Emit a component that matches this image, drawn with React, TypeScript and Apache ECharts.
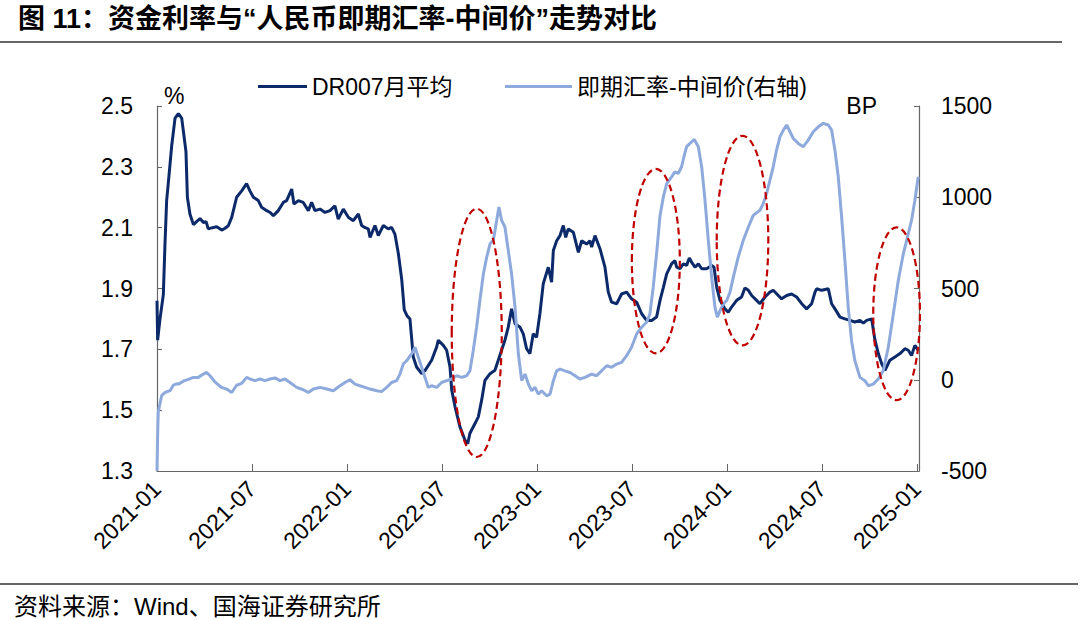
import React, { useEffect, useRef } from 'react';
import * as echarts from 'echarts';

// x = months elapsed since 2021-01; y = value
const dr007: [number, number][] = [
  [0, 1.86], [0.04, 1.73], [0.19, 1.8], [0.4, 1.88], [0.5, 2.04], [0.61, 2.19], [0.72, 2.25], [0.93, 2.37],
  [1.14, 2.46], [1.35, 2.475], [1.56, 2.46], [1.66, 2.42], [1.83, 2.35], [1.92, 2.2], [2.08, 2.145], [2.3, 2.11],
  [2.5, 2.12], [2.72, 2.13], [2.93, 2.117], [3.1, 2.12], [3.24, 2.096], [3.5, 2.1], [3.77, 2.103], [4.09, 2.092],
  [4.3, 2.098], [4.51, 2.107], [4.72, 2.134], [5.03, 2.2], [5.35, 2.221], [5.66, 2.245], [5.87, 2.221], [6.09, 2.2],
  [6.4, 2.189], [6.61, 2.167], [6.93, 2.156], [7.15, 2.15], [7.35, 2.139], [7.66, 2.156], [7.98, 2.183], [8.19, 2.189],
  [8.51, 2.227], [8.65, 2.178], [8.93, 2.189], [9.24, 2.183], [9.56, 2.156], [9.77, 2.183], [9.98, 2.156], [10.3, 2.161],
  [10.61, 2.15], [10.93, 2.156], [11.24, 2.172], [11.45, 2.128], [11.77, 2.161], [12.09, 2.134], [12.4, 2.123], [12.72, 2.145],
  [12.93, 2.107], [13.15, 2.1], [13.35, 2.096], [13.46, 2.068], [13.77, 2.107], [13.98, 2.074], [14.3, 2.107], [14.61, 2.096],
  [14.82, 2.101], [15.03, 2.079], [15.25, 2.014], [15.46, 1.93], [15.62, 1.83], [15.8, 1.81], [15.98, 1.8], [16.19, 1.675],
  [16.4, 1.642], [16.72, 1.62], [16.93, 1.63], [17.35, 1.664], [17.67, 1.708], [17.77, 1.73], [18.09, 1.713], [18.3, 1.697],
  [18.51, 1.642], [18.62, 1.566], [18.83, 1.511], [19.14, 1.445], [19.46, 1.401], [19.63, 1.39], [19.77, 1.424], [20.09, 1.456],
  [20.3, 1.478], [20.51, 1.533], [20.72, 1.598], [21.04, 1.62], [21.35, 1.631], [21.56, 1.664], [21.77, 1.697], [21.98, 1.73],
  [22.19, 1.773], [22.4, 1.833], [22.62, 1.784], [22.93, 1.773], [23.14, 1.751], [23.35, 1.702], [23.56, 1.686], [23.77, 1.751],
  [23.98, 1.74], [24.19, 1.817], [24.4, 1.915], [24.72, 1.97], [24.93, 1.921], [25.04, 2.025], [25.25, 2.057], [25.46, 2.074],
  [25.67, 2.107], [25.82, 2.068], [25.98, 2.096], [26.3, 2.085], [26.62, 2.019], [26.83, 2.057], [27.14, 2.046], [27.35, 2.057],
  [27.46, 2.036], [27.67, 2.074], [27.99, 2.03], [28.3, 1.97], [28.51, 1.888], [28.72, 1.855], [29.04, 1.85], [29.35, 1.882],
  [29.67, 1.888], [29.98, 1.866], [30.3, 1.855], [30.62, 1.817], [30.93, 1.795], [31.25, 1.795], [31.56, 1.806], [31.78, 1.861],
  [31.99, 1.904], [32.2, 1.948], [32.51, 1.981], [32.72, 1.992], [32.83, 1.97], [33.04, 1.965], [33.25, 1.981], [33.46, 1.976],
  [33.63, 2.0], [33.78, 1.986], [33.99, 1.97], [34.2, 1.981], [34.41, 1.965], [34.72, 1.965], [35.04, 1.976], [35.19, 1.97],
  [35.36, 1.904], [35.57, 1.861], [35.88, 1.833], [36.09, 1.822], [36.3, 1.839], [36.62, 1.861], [36.93, 1.872], [37.14, 1.902],
  [37.36, 1.894], [37.57, 1.877], [37.88, 1.861], [38.09, 1.85], [38.41, 1.872], [38.72, 1.888], [38.93, 1.894], [39.25, 1.877],
  [39.46, 1.866], [39.78, 1.877], [40.09, 1.882], [40.41, 1.872], [40.73, 1.85], [41.04, 1.833], [41.36, 1.85], [41.57, 1.888],
  [41.67, 1.899], [41.99, 1.894], [42.41, 1.899], [42.62, 1.85], [42.83, 1.833], [43.15, 1.806], [43.46, 1.8], [43.78, 1.795],
  [44.09, 1.79], [44.41, 1.795], [44.62, 1.786], [44.83, 1.795], [45.15, 1.8], [45.36, 1.73], [45.57, 1.686], [45.78, 1.653],
  [45.99, 1.631], [46.3, 1.664], [46.62, 1.675], [46.94, 1.686], [47.25, 1.702], [47.46, 1.697], [47.67, 1.68], [47.88, 1.713],
  [48.09, 1.697],
];

const fxSpread: [number, number][] = [
  [0, -500], [0.04, -300], [0.08, -175], [0.3, -85], [0.5, -70], [0.82, -60], [1.03, -30], [1.24, -22],
  [1.35, -24], [1.66, -8], [1.98, 2], [2.3, 13], [2.61, 13], [2.93, 31], [3.14, 40], [3.35, 22],
  [3.66, -12], [3.9, -30], [4.09, -42], [4.4, -51], [4.72, -70], [5.03, -30], [5.35, -20], [5.66, 13],
  [5.87, 4], [6.19, -5], [6.51, 4], [6.82, -5], [7.14, 4], [7.45, 10], [7.77, -5], [8.09, 4],
  [8.4, -15], [8.82, -42], [9.24, -55], [9.56, -70], [9.88, -51], [10.3, -42], [10.72, -51], [11.14, -60],
  [11.56, -33], [11.88, -15], [12.19, 0], [12.51, -24], [12.82, -33], [13.14, -42], [13.46, -51], [13.88, -60],
  [14.19, -65], [14.51, -42], [14.82, -15], [15.14, -5], [15.35, 31], [15.56, 86], [15.77, 104], [15.98, 130],
  [16.09, 141], [16.3, 178], [16.51, 123], [16.72, 68], [16.93, 13], [17.14, -42], [17.35, -33], [17.67, -42],
  [17.98, -15], [18.3, -5], [18.62, 4], [18.93, 22], [19.25, 13], [19.56, 22], [19.77, 49], [19.98, 160],
  [20.19, 288], [20.4, 434], [20.62, 581], [20.83, 672], [21.04, 745], [21.25, 764], [21.46, 874], [21.6, 947],
  [21.77, 874], [21.98, 837], [22.19, 709], [22.4, 581], [22.62, 397], [22.83, 141], [23.04, -5], [23.25, 31],
  [23.46, -24], [23.67, -60], [23.88, -42], [24.09, -79], [24.3, -60], [24.62, -88], [24.83, -79], [25.04, -5],
  [25.25, 49], [25.46, 58], [25.77, 49], [26.09, 40], [26.41, 22], [26.72, 4], [27.04, 13], [27.46, 31],
  [27.77, 22], [28.09, 49], [28.41, 77], [28.72, 68], [29.04, 86], [29.35, 95], [29.67, 132], [29.98, 178],
  [30.3, 251], [30.62, 288], [30.93, 315], [31.14, 361], [31.35, 507], [31.56, 690], [31.78, 900], [31.99, 1002],
  [32.2, 1075], [32.51, 1112], [32.72, 1139], [32.93, 1130], [33.14, 1167], [33.29, 1222], [33.46, 1277], [33.78, 1304],
  [33.94, 1317], [34.2, 1277], [34.41, 1167], [34.62, 984], [34.83, 764], [35.04, 562], [35.25, 397], [35.4, 343],
  [35.57, 379], [35.78, 416], [35.99, 434], [36.2, 480], [36.41, 562], [36.72, 672], [37.04, 764], [37.36, 837],
  [37.67, 901], [38.09, 929], [38.3, 965], [38.51, 1020], [38.72, 1093], [38.93, 1167], [39.14, 1258], [39.36, 1332],
  [39.57, 1368], [39.78, 1396], [39.99, 1359], [40.2, 1322], [40.51, 1295], [40.83, 1277], [41.14, 1313], [41.46, 1359],
  [41.78, 1386], [42.09, 1405], [42.41, 1396], [42.62, 1368], [42.83, 1258], [43.04, 1112], [43.25, 892], [43.46, 654],
  [43.67, 397], [43.88, 214], [44.09, 104], [44.41, 13], [44.72, -5], [44.94, -33], [45.25, -24], [45.57, 4],
  [45.88, 49], [46.2, 178], [46.52, 361], [46.83, 544], [47.15, 690], [47.46, 800], [47.67, 874], [47.88, 984],
  [48.09, 1112],
];

const xTickLabels = ['2021-01', '2021-07', '2022-01', '2022-07', '2023-01', '2023-07', '2024-01', '2024-07', '2025-01'];
const seriesNames = ['DR007月平均', '即期汇率-中间价(右轴)'];

// Highlight ellipses: [monthFrom, monthTo] and [rateFrom, rateTo] on the left axis
const highlightMonths: [number, number][] = [[18.62, 21.78], [30.0, 33.03], [35.36, 38.62], [45.25, 48.2]];
const highlightRates: [number, number][] = [[1.346, 2.162], [1.687, 2.293], [1.713, 2.402], [1.533, 2.101]];

const FONT = "'Liberation Sans', Arial, 'Noto Sans CJK SC', sans-serif";
const DARK = '#0c2a6a';
const LIGHT = '#8eaadc';
const AXIS = '#666666';

export default function App() {
  const ref = useRef<HTMLDivElement>(null);

  useEffect(() => {
    if (!ref.current) return;
    const chart = echarts.init(ref.current, undefined, { renderer: 'svg' });

    const baseGraphic: any[] = [
      {
        id: 'title', type: 'text', left: 18, top: 5,
        style: { text: '图 11：资金利率与“人民币即期汇率-中间价”走势对比', fontSize: 27, fontWeight: 'bold', fontFamily: FONT, fill: '#000' },
      },
      { id: 'titleRule', type: 'line', shape: { x1: 0, y1: 42, x2: 1062, y2: 42 }, style: { stroke: '#333', lineWidth: 1.5 } },
      { id: 'footRule', type: 'line', shape: { x1: 0, y1: 584, x2: 1078, y2: 584 }, style: { stroke: '#333', lineWidth: 1.5 } },
      {
        id: 'foot', type: 'text', left: 14, top: 594,
        style: { text: '资料来源：Wind、国海证券研究所', fontSize: 24, fontFamily: FONT, fill: '#000' },
      },
      {
        id: 'pct', type: 'text', left: 164, top: 84,
        style: { text: '%', fontSize: 23, fontFamily: FONT, fill: '#000' },
      },
      {
        id: 'bp', type: 'text', right: 1080 - 877, top: 94,
        style: { text: 'BP', fontSize: 23, fontFamily: FONT, fill: '#000' },
      },
    ];

    const option: any = {
      animation: false,
      backgroundColor: '#fff',
      textStyle: { fontFamily: FONT },
      grid: { left: 157, top: 106, width: 762, height: 365, containLabel: false, outerBoundsMode: 'none' },
      legend: [
        {
          data: [seriesNames[0]], left: 253, top: 70, icon: 'rect', itemWidth: 49, itemHeight: 3,
          textStyle: { fontSize: 23, color: '#000', fontFamily: FONT }, selectedMode: false,
        },
        {
          data: [seriesNames[1]], left: 500, top: 70, icon: 'rect', itemWidth: 67, itemHeight: 3,
          textStyle: { fontSize: 23, color: '#000', fontFamily: FONT }, selectedMode: false,
        },
      ],
      xAxis: {
        type: 'value', min: 0, max: 48.14, interval: 6,
        splitLine: { show: false },
        axisLine: { onZero: false, lineStyle: { color: AXIS, width: 1.2 } },
        axisTick: { inside: true, length: 7, lineStyle: { color: AXIS } },
        axisLabel: {
          rotate: 45, margin: 14, fontSize: 23, color: '#000', fontFamily: FONT,
          formatter: (v: number) => {
            const i = Math.round(v / 6);
            return Math.abs(v - i * 6) < 1e-6 ? xTickLabels[i] ?? '' : '';
          },
        },
      },
      yAxis: [
        {
          type: 'value', min: 1.3, max: 2.5, interval: 0.2, position: 'left',
          splitLine: { show: false },
          axisLine: { show: true, onZero: false, lineStyle: { color: AXIS, width: 1.2 } },
          axisTick: { show: true, inside: true, length: 5, lineStyle: { color: AXIS } },
          axisLabel: { margin: 24, fontSize: 23, color: '#000', fontFamily: FONT, formatter: (v: number) => v.toFixed(1) },
        },
        {
          type: 'value', min: -500, max: 1500, interval: 500, position: 'right',
          splitLine: { show: false },
          axisLine: { show: true, onZero: false, lineStyle: { color: AXIS, width: 1.2 } },
          axisTick: { show: true, inside: true, length: 5, lineStyle: { color: AXIS } },
          axisLabel: { margin: 22, fontSize: 23, color: '#000', fontFamily: FONT, formatter: (v: number) => String(Math.round(v)) },
        },
      ],
      series: [
        {
          name: seriesNames[0], type: 'line', yAxisIndex: 0, data: dr007, symbol: 'none', z: 3,
          lineStyle: { width: 3, color: DARK }, itemStyle: { color: DARK },
        },
        {
          name: seriesNames[1], type: 'line', yAxisIndex: 1, data: fxSpread, symbol: 'none', z: 4,
          lineStyle: { width: 3, color: LIGHT }, itemStyle: { color: LIGHT },
        },
      ],
      graphic: baseGraphic,
    };

    chart.setOption(option);

    const ellipses = highlightMonths.map((mr, i) => {
      const vr = highlightRates[i];
      const p1 = chart.convertToPixel({ seriesIndex: 0 }, [mr[0], vr[0]]) as number[];
      const p2 = chart.convertToPixel({ seriesIndex: 0 }, [mr[1], vr[1]]) as number[];
      return {
        id: 'ell' + i, type: 'ellipse', z: 100,
        shape: {
          cx: (p1[0] + p2[0]) / 2, cy: (p1[1] + p2[1]) / 2,
          rx: Math.abs(p2[0] - p1[0]) / 2, ry: Math.abs(p2[1] - p1[1]) / 2,
        },
        style: { fill: 'none', stroke: '#c00000', lineWidth: 2.2, lineDash: [7, 4] },
      };
    });

    chart.setOption({ ...option, graphic: [...baseGraphic, ...ellipses] }, true);

    return () => chart.dispose();
  }, []);

  return (
    <div
      ref={ref}
      style={{ position: 'fixed', left: 0, top: 0, width: 1080, height: 620, background: '#fff' }}
    />
  );
}
